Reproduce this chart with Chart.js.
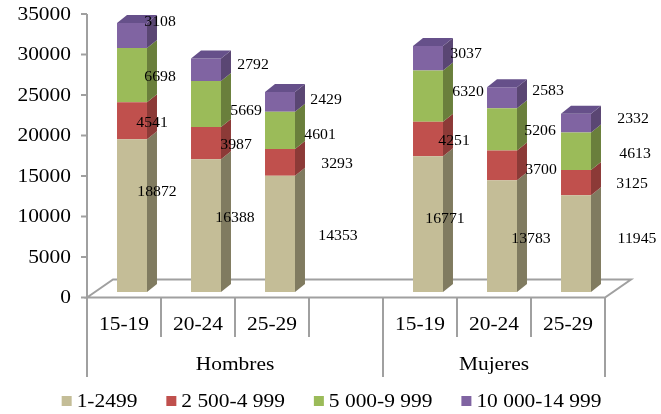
<!DOCTYPE html>
<html>
<head>
<meta charset="utf-8">
<script src="https://cdn.jsdelivr.net/npm/chart.js@4/dist/chart.umd.min.js"></script>
<style>
  html, body { margin: 0; padding: 0; background: #ffffff; overflow: hidden; }
  canvas { display: block; }
</style>
</head>
<body>
<canvas id="chart" width="661" height="414"></canvas>
<script>
// Age groups along the category axis (blank slot separates the two sexes)
const ageGroups = ['15-19', '20-24', '25-29', '', '15-19', '20-24', '25-29'];
// Outer category level and how many slots each one spans
const sexGroups = ['Hombres', 'Mujeres'];
const sexSpan = [4, 3];
// Income bands (legend)
const seriesNames = ['1-2499', '2 500-4 999', '5 000-9 999', '10 000-14 999'];
// Values per band
const band1 = [18872, 16388, 14353, null, 16771, 13783, 11945];
const band2 = [4541, 3987, 3293, null, 4251, 3700, 3125];
const band3 = [6698, 5669, 4601, null, 6320, 5206, 4613];
const band4 = [3108, 2792, 2429, null, 3037, 2583, 2332];
// Value axis ticks
const yTicks = [0, 5000, 10000, 15000, 20000, 25000, 30000, 35000];

// ---- styling ----
const FRONT = ['#c4bd97', '#c0504d', '#9bbb59', '#8064a2'];
const SIDE  = ['#807b60', '#8c3a37', '#6a7f3c', '#5a4673'];
const TOPC  = ['#d6d0ae', '#d06a67', '#aac76f', '#66508a'];
const DEPTH = { dx: 10, dy: -8 };        // extrusion of each column
const FLOOR = { dx: 26, dy: -18 };       // depth of the floor plane
const AXIS_OFFSET = { x: -8, y: 5.5 };   // front plane vs. column plane
const GRID = '#a0a0a0';
const FONT = '"Liberation Serif", "Times New Roman", serif';
const TEXT_STRETCH = 1.19;
const LABEL_STRETCH = 1.05;

// Hand placement of the value labels, relative to each segment centre
const labelNudge = [
  [[25, -25], [29, -9], [58, 1], null, [17, -6], [29, 2], [61, -6]],
  [[20, 1], [30, 1], [57, 1], null, [26, 1], [39, 4], [56, 0]],
  [[28, 1], [40, 6], [40, 4], null, [40, -5], [38, 1], [59, 2]],
  [[28, -14], [47, -6], [46, -3], null, [38, -5], [46, -8], [57, -5]]
];

function drawText(ctx, s, x, y, size, stretch, align) {
  ctx.save();
  ctx.font = size + 'px ' + FONT;
  ctx.fillStyle = '#000000';
  ctx.textBaseline = 'alphabetic';
  ctx.textAlign = align;
  ctx.translate(x, y);
  ctx.scale(stretch, 1);
  ctx.fillText(s, 0, size * 0.33);
  ctx.restore();
}

function line(ctx, x1, y1, x2, y2) {
  ctx.beginPath();
  ctx.moveTo(x1, y1);
  ctx.lineTo(x2, y2);
  ctx.stroke();
}

const frame3d = {
  id: 'frame3d',
  beforeDatasetsDraw(chart) {
    const ctx = chart.ctx;
    const xs = chart.scales.x, ys = chart.scales.y;
    const area = chart.chartArea;
    const left = area.left + AXIS_OFFSET.x;
    const right = area.right + AXIS_OFFSET.x;
    const slot = (right - left) / ageGroups.length;
    const y0 = ys.getPixelForValue(0) + AXIS_OFFSET.y;
    const yTop = ys.getPixelForValue(yTicks[yTicks.length - 1]) + AXIS_OFFSET.y;
    const lvl1Bottom = 337, lvl2Bottom = 377;

    ctx.save();
    ctx.strokeStyle = GRID;
    ctx.lineWidth = 2;
    ctx.lineCap = 'butt';

    // floor
    ctx.beginPath();
    ctx.moveTo(left, y0);
    ctx.lineTo(left + FLOOR.dx, y0 + FLOOR.dy);
    ctx.lineTo(right + FLOOR.dx, y0 + FLOOR.dy);
    ctx.lineTo(right, y0);
    ctx.closePath();
    ctx.fillStyle = '#ffffff';
    ctx.fill();
    ctx.stroke();

    // value axis
    line(ctx, left, yTop, left, lvl2Bottom);
    yTicks.forEach(v => {
      const y = ys.getPixelForValue(v) + AXIS_OFFSET.y;
      line(ctx, left - 6, y, left, y);
      drawText(ctx, String(v), left - 16, y, 18, TEXT_STRETCH, 'right');
    });

    // category dividers
    const groupEdges = [0];
    sexSpan.forEach(n => groupEdges.push(groupEdges[groupEdges.length - 1] + n));
    for (let i = 1; i <= ageGroups.length; i++) {
      const x = left + slot * i;
      const long = groupEdges.includes(i);
      line(ctx, x, y0, x, long ? lvl2Bottom : lvl1Bottom);
    }

    // category labels
    ageGroups.forEach((g, i) => {
      if (g) drawText(ctx, g, left + slot * (i + 0.5), 324, 18, TEXT_STRETCH, 'center');
    });
    sexGroups.forEach((g, k) => {
      const cx = left + slot * (groupEdges[k] + groupEdges[k + 1]) / 2;
      drawText(ctx, g, cx, 364, 18, TEXT_STRETCH, 'center');
    });

    // legend
    ctx.font = '18px ' + FONT;
    const widths = seriesNames.map(s => ctx.measureText(s).width * TEXT_STRETCH);
    const box = 10, pad = 5, gap = 29;
    const total = widths.reduce((a, b) => a + b, 0) + seriesNames.length * (box + pad) + gap * (seriesNames.length - 1);
    let lx = 331.5 - total / 2;
    const ly = 401;
    seriesNames.forEach((s, i) => {
      ctx.fillStyle = FRONT[i];
      ctx.fillRect(lx, ly - box / 2, box, box);
      drawText(ctx, s, lx + box + pad, ly, 18, TEXT_STRETCH, 'left');
      lx += box + pad + widths[i] + gap;
    });
    ctx.restore();
  },
  afterDatasetsDraw(chart) {
    const ctx = chart.ctx;
    const n = chart.data.datasets.length;
    ctx.save();
    // side and top faces
    for (let d = 0; d < n; d++) {
      const meta = chart.getDatasetMeta(d);
      meta.data.forEach((el, i) => {
        const v = chart.data.datasets[d].data[i];
        if (v === null || v === undefined) return;
        const p = el.getProps(['x', 'y', 'base', 'width'], true);
        const l = p.x - p.width / 2, r = p.x + p.width / 2;
        const t = Math.min(p.y, p.base), b = Math.max(p.y, p.base);
        ctx.fillStyle = SIDE[d];
        ctx.beginPath();
        ctx.moveTo(r, t);
        ctx.lineTo(r + DEPTH.dx, t + DEPTH.dy);
        ctx.lineTo(r + DEPTH.dx, b + DEPTH.dy);
        ctx.lineTo(r, b);
        ctx.closePath();
        ctx.fill();
        let topmost = true;
        for (let k = d + 1; k < n; k++) {
          if (chart.data.datasets[k].data[i] !== null) topmost = false;
        }
        if (topmost) {
          ctx.fillStyle = TOPC[d];
          ctx.beginPath();
          ctx.moveTo(l, t);
          ctx.lineTo(l + DEPTH.dx, t + DEPTH.dy);
          ctx.lineTo(r + DEPTH.dx, t + DEPTH.dy);
          ctx.lineTo(r, t);
          ctx.closePath();
          ctx.fill();
        }
      });
    }
    // value labels
    for (let d = 0; d < n; d++) {
      const meta = chart.getDatasetMeta(d);
      meta.data.forEach((el, i) => {
        const v = chart.data.datasets[d].data[i];
        if (v === null || v === undefined) return;
        const p = el.getProps(['x', 'y', 'base'], true);
        const nudge = labelNudge[d][i] || [30, 0];
        const cy = (p.y + p.base) / 2;
        drawText(ctx, String(v), p.x + nudge[0], cy + nudge[1], 15, LABEL_STRETCH, 'center');
      });
    }
    ctx.restore();
  }
};

const bands = [band1, band2, band3, band4];

new Chart(document.getElementById('chart'), {
  type: 'bar',
  data: {
    labels: ageGroups,
    datasets: bands.map((vals, i) => ({
      label: seriesNames[i],
      data: vals,
      backgroundColor: FRONT[i],
      borderWidth: 0,
      barPercentage: 0.405,
      categoryPercentage: 1.0
    }))
  },
  options: {
    responsive: false,
    devicePixelRatio: 1,
    animation: false,
    events: [],
    layout: { padding: { left: 95, right: 48, top: 8.5, bottom: 122 } },
    scales: {
      x: { stacked: true, display: false },
      y: { stacked: true, display: false, min: 0, max: 35000 }
    },
    plugins: {
      legend: { display: false },
      tooltip: { enabled: false }
    }
  },
  plugins: [frame3d]
});
</script>
</body>
</html>
